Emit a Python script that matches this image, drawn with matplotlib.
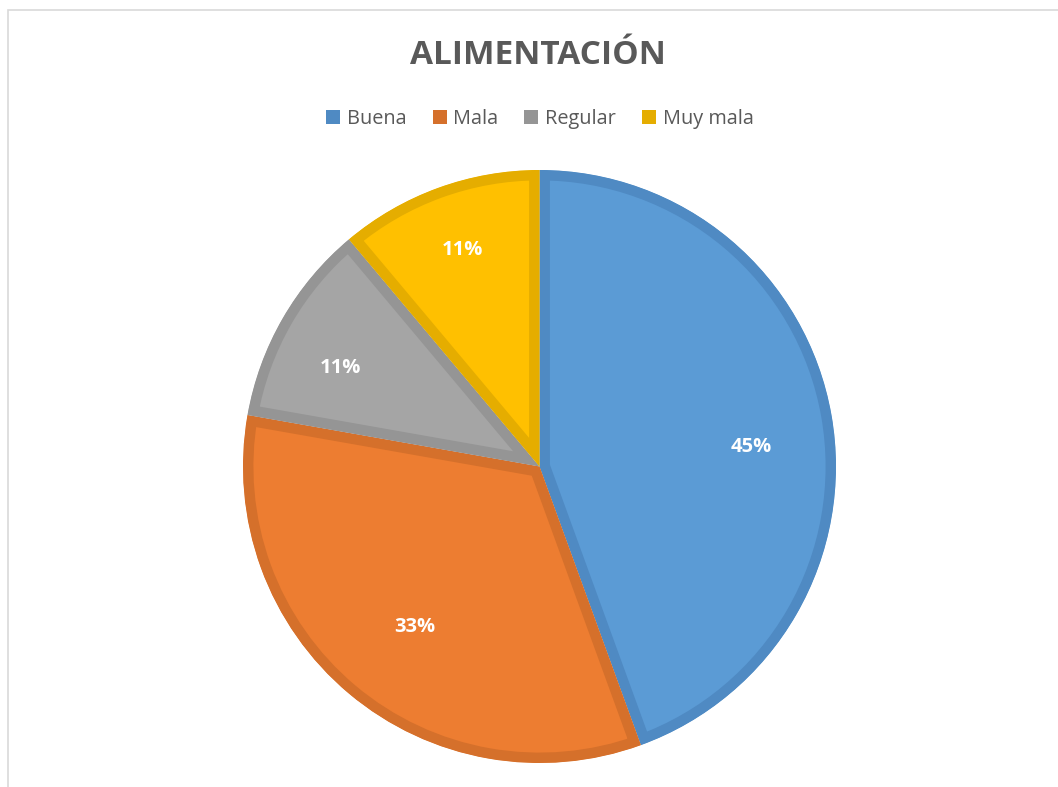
import numpy as np
import matplotlib.pyplot as plt
from matplotlib.patches import Rectangle, Patch

# Data (wedge sizes; labels as printed on the chart)
labels = ['Buena', 'Mala', 'Regular', 'Muy mala']
values = [44.4, 33.3, 11.1, 11.1]
pct_labels = ['45%', '33%', '11%', '11%']
fill_colors = ['#5B9BD5', '#ED7D31', '#A5A5A5', '#FFC000']
edge_colors = ['#4F8AC3', '#D5702B', '#959595', '#E5AD00']

# label placement (fraction of radius, angle shift in degrees) as Excel put them
label_dist = [0.716, 0.685, 0.75, 0.775]
label_shift = [-4.8, 2.0, 3.8, -0.4]

plt.rcParams['font.family'] = ['Open Sans', 'DejaVu Sans']

W, H = 1058, 787
fig = plt.figure(figsize=(W / 100, H / 100), dpi=100)

# light frame of the chart area (cut off at right/bottom)
fig.patches.append(Rectangle((8 / W, -0.1), 1.2, (H - 10) / H + 0.1,
                             transform=fig.transFigure, fill=False,
                             edgecolor='#D9D9D9', linewidth=1.2))

# pie axes: center (539, 467), radius 296 px
cx, cy, r = 539.5, H - 466.5, 296.5
ax = fig.add_axes([(cx - r) / W, (cy - r) / H, 2 * r / W, 2 * r / H])

wedges, texts = ax.pie(values, colors=fill_colors, startangle=90,
                       counterclock=False, radius=1)

# inner stroke in a darker shade, clipped to each wedge
for w, ec in zip(wedges, edge_colors):
    w.set_edgecolor(ec)
    w.set_linewidth(15)
    w.set_clip_path(w)
    w.set_clip_on(True)

# percentage labels
for w, txt, d, s in zip(wedges, pct_labels, label_dist, label_shift):
    ang = np.deg2rad((w.theta1 + w.theta2) / 2 + s)
    ax.text(d * np.cos(ang), d * np.sin(ang), txt,
            ha='center', va='center', color='white', fontsize=14.5,
            fontweight='bold')

ax.set_xlim(-1, 1)
ax.set_ylim(-1, 1)
ax.set_aspect('equal')
ax.axis('off')

fig.text(538 / W, 1 - 56 / H, 'ALIMENTACIÓN', ha='center', va='center',
         fontsize=24, fontweight='bold', color='#595959')

handles = [Patch(facecolor=c, edgecolor='none') for c in edge_colors]
fig.legend(handles, labels, loc='center', bbox_to_anchor=(540 / W, 1 - 119 / H),
           ncol=4, frameon=False, fontsize=14.3, labelcolor='#595959',
           handlelength=0.7, handleheight=0.7, handletextpad=0.35,
           columnspacing=1.3)

fig.savefig('out.png', dpi=100, facecolor='white')
